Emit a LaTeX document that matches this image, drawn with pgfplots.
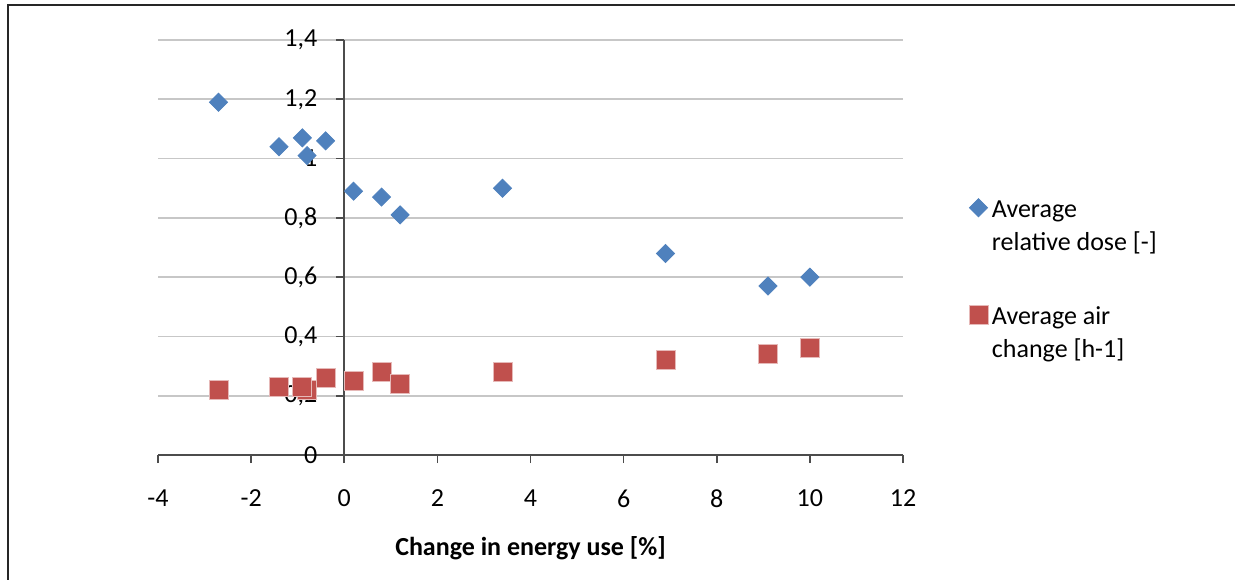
\documentclass[border=0pt]{standalone}
\usepackage{fontspec}
\setmainfont{Carlito}
\usepackage{pgfplots}
\pgfplotsset{compat=1.18}
\definecolor{exblue}{HTML}{4F81BD}
\definecolor{exred}{HTML}{C0504D}
\newcommand\legA{\raisebox{0pt}[\height][0pt]{\begin{tabular}[t]{@{}l@{}}Average\\relative dose [-]\end{tabular}}}
\newcommand\legB{\raisebox{0pt}[\height][0pt]{\begin{tabular}[t]{@{}l@{}}Average air\\change [h-1]\end{tabular}}}
\pgfplotstableread{
x y
-2.7 1.19
-1.4 1.04
-0.9 1.07
-0.8 1.01
-0.4 1.06
0.2 0.89
0.8 0.87
1.2 0.81
3.4 0.90
6.9 0.68
9.1 0.57
10 0.60
}\dose
\pgfplotstableread{
x y
-2.7 0.22
-1.4 0.23
-0.8 0.22
-0.9 0.23
-0.4 0.26
0.2 0.25
0.8 0.28
1.2 0.24
3.4 0.28
6.9 0.32
9.1 0.34
10 0.36
}\air
\begin{document}
\begin{tikzpicture}
\useasboundingbox (-79pt,-62.5pt) rectangle (538.5pt,227.5pt);
\draw[line width=1pt, black!85] (538.5pt,225pt) -- (-75pt,225pt) -- (-75pt,-62.5pt);
\begin{axis}[
  name=ax, at={(0,0)}, anchor=south west,
  scale only axis, width=372.5pt, height=207.5pt,
  xmin=-4, xmax=12, ymin=0, ymax=1.4,
  enlargelimits=false,
  axis lines=middle,
  axis line style={-, black!70, line width=0.8pt},
  hide obscured x ticks=false, hide obscured y ticks=false,
  xtick={-4,-2,0,2,4,6,8,10,12},
  ytick={0,0.2,0.4,0.6,0.8,1,1.2,1.4},
  tick align=outside, major tick length=4pt,
  tick style={black!70, line width=0.8pt},
  ymajorgrids, grid style={black!22, line width=0.8pt},
  font=\fontsize{13}{16.5}\selectfont,
  /pgf/number format/assume math mode=true,
  yticklabel style={xshift=-6pt, /pgf/number format/.cd, use comma, fixed, precision=1},
  xticklabel style={yshift=-10pt},
  xlabel={\bfseries Change in energy use [\%]},
  xlabel style={at={(axis description cs:0.5,0)}, anchor=center, yshift=-46.5pt},
  legend image code/.code={\draw[#1] plot coordinates {(5pt,0pt)};},
  legend cell align=left,
  legend style={at={(axis description cs:1.088,0.638)}, anchor=north west,
    draw=none, fill=none, inner sep=0pt, row sep=36.5pt,
    font=\fontsize{13}{16.5}\selectfont, nodes={inner sep=2pt}},
]
\addplot[only marks, mark=square*, mark size=3.2pt,
  mark options={rotate=45, fill=exblue, draw=exblue}] table {\dose};
\addlegendentry{\legA}
\addplot[only marks, mark=square*, mark size=4.75pt,
  mark options={fill=exred, draw=white!60!exred, line width=0.4pt}] table {\air};
\addlegendentry{\legB}
\end{axis}
\end{tikzpicture}
\end{document}
